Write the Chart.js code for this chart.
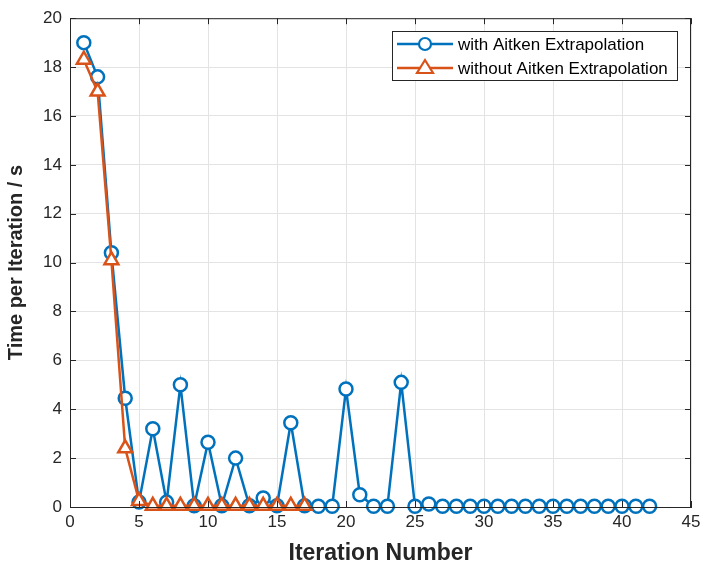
<!DOCTYPE html>
<html>
<head>
<meta charset="utf-8">
<script src="https://cdn.jsdelivr.net/npm/chart.js@4/dist/chart.umd.min.js"></script>
<style>
  html, body { margin: 0; padding: 0; background: #fff; }
  #wrap { width: 706px; height: 571px; }
</style>
</head>
<body>
<div id="wrap"><canvas id="c" width="706" height="571"></canvas></div>
<script>
// datos
const iterWith = Array.from({ length: 42 }, (_, i) => i + 1);
const timeWith = [19.0, 17.6, 10.4, 4.45, 0.2, 3.2, 0.2, 5.0, 0.05, 2.65,
  0.05, 2.0, 0.05, 0.37, 0.05, 3.45, 0.05, 0.03, 0.03, 4.83,
  0.5, 0.03, 0.03, 5.1, 0.03, 0.12, 0.03, 0.03, 0.03, 0.03,
  0.03, 0.03, 0.03, 0.03, 0.03, 0.03, 0.03, 0.03, 0.03, 0.03,
  0.03, 0.03];
const iterWithout = Array.from({ length: 17 }, (_, i) => i + 1);
const timeWithout = [18.3, 17.0, 10.1, 2.4, 0.25, 0.05, 0.05, 0.05, 0.05, 0.05,
  0.05, 0.05, 0.05, 0.05, 0.05, 0.05, 0.05];
const seriesLabels = ['with Aitken Extrapolation', 'without Aitken Extrapolation'];
const xTicks = [0, 5, 10, 15, 20, 25, 30, 35, 40, 45];
const yTicks = [0, 2, 4, 6, 8, 10, 12, 14, 16, 18, 20];

const blue = '#0072BD';
const orange = '#D95319';
const tickFont = { family: 'Liberation Sans', size: 17 };

const toPoints = (xs, ys) => xs.map((x, i) => ({ x: x, y: ys[i] }));

// borde, marcas interiores y leyenda estilo MATLAB
const matlabBox = {
  id: 'matlabBox',
  afterDraw(chart) {
    const { ctx, chartArea: a, scales } = chart;
    ctx.save();
    ctx.strokeStyle = '#262626';
    ctx.lineWidth = 1;
    ctx.strokeRect(a.left + 0.5, a.top + 0.5, a.right - a.left - 1, a.bottom - a.top);
    ctx.beginPath();
    xTicks.forEach(v => {
      const px = Math.round(scales.x.getPixelForValue(v)) + 0.5;
      ctx.moveTo(px, a.bottom); ctx.lineTo(px, a.bottom - 6);
      ctx.moveTo(px, a.top); ctx.lineTo(px, a.top + 6);
    });
    yTicks.forEach(v => {
      const py = Math.round(scales.y.getPixelForValue(v)) + 0.5;
      ctx.moveTo(a.left, py); ctx.lineTo(a.left + 6, py);
      ctx.moveTo(a.right, py); ctx.lineTo(a.right - 6, py);
    });
    ctx.stroke();

    // leyenda
    const bx = 392, by = 31, bw = 285, bh = 49;
    ctx.fillStyle = '#fff';
    ctx.fillRect(bx, by, bw, bh);
    ctx.strokeStyle = '#262626';
    ctx.strokeRect(bx + 0.5, by + 0.5, bw, bh);
    ctx.font = '17px "Liberation Sans"';
    ctx.textBaseline = 'middle';
    chart.data.datasets.forEach((ds, i) => {
      const cy = by + 13 + i * 24;
      ctx.strokeStyle = ds.borderColor;
      ctx.lineWidth = 2.5;
      ctx.beginPath();
      ctx.moveTo(bx + 5, cy); ctx.lineTo(bx + 61, cy);
      ctx.stroke();
      ctx.lineWidth = 2.2;
      ctx.fillStyle = '#fff';
      ctx.beginPath();
      if (ds.pointStyle === 'triangle') {
        ctx.moveTo(bx + 33, cy - 8); ctx.lineTo(bx + 41, cy + 5); ctx.lineTo(bx + 25, cy + 5); ctx.closePath();
      } else {
        ctx.arc(bx + 33, cy, 6, 0, Math.PI * 2);
      }
      ctx.fill(); ctx.stroke();
      ctx.fillStyle = '#000';
      ctx.fillText(ds.label, bx + 66, cy + 1);
    });
    ctx.restore();
  }
};

new Chart(document.getElementById('c').getContext('2d'), {
  type: 'line',
  data: {
    datasets: [{
      label: seriesLabels[0],
      data: toPoints(iterWith, timeWith),
      order: 1,
      borderColor: blue,
      backgroundColor: '#fff',
      borderWidth: 2.5,
      pointStyle: 'circle',
      pointRadius: 6.5,
      pointBorderWidth: 2.5,
      pointBackgroundColor: '#fff',
      tension: 0,
      clip: false
    }, {
      label: seriesLabels[1],
      data: toPoints(iterWithout, timeWithout),
      order: 0,
      borderColor: orange,
      backgroundColor: '#fff',
      borderWidth: 2.5,
      pointStyle: 'triangle',
      pointRadius: 8,
      pointBorderWidth: 2.5,
      pointBackgroundColor: '#fff',
      tension: 0,
      clip: false
    }]
  },
  options: {
    responsive: false,
    animation: false,
    layout: { padding: { top: 15, right: 15, left: 0, bottom: 0 } },
    plugins: { legend: { display: false }, tooltip: { enabled: false } },
    scales: {
      x: {
        type: 'linear',
        min: 0, max: 45,
        afterBuildTicks: s => { s.ticks = xTicks.map(v => ({ value: v })); },
        afterFit: s => { s.height = 64; },
        ticks: { font: tickFont, color: '#262626', padding: 5, maxRotation: 0 },
        grid: { color: '#e3e3e3', drawTicks: false },
        border: { color: '#262626' },
        title: { display: true, text: 'Iteration Number', color: '#262626',
          font: { family: 'Liberation Sans', size: 23, weight: 'bold' }, padding: { top: 2 } }
      },
      y: {
        min: 0, max: 20,
        afterBuildTicks: s => { s.ticks = yTicks.map(v => ({ value: v })); },
        afterFit: s => { s.width = 70; },
        ticks: { font: tickFont, color: '#262626', padding: 8 },
        grid: { color: '#e3e3e3', drawTicks: false },
        border: { color: '#262626' },
        title: { display: true, text: 'Time per Iteration / s', color: '#262626',
          font: { family: 'Liberation Sans', size: 20, weight: 'bold' }, padding: { bottom: 2 } }
      }
    }
  },
  plugins: [matlabBox]
});
</script>
</body>
</html>
